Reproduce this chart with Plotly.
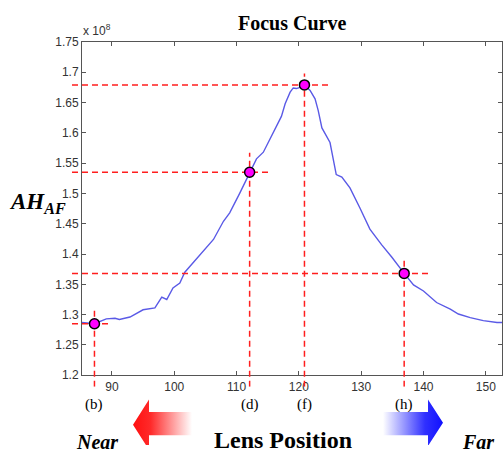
import plotly.graph_objects as go

W, H = 504, 452

# ---------------- data ----------------
lens_pos = [85.2, 87.2, 89.1, 90.5, 91.2, 92.9, 95.0, 96.9, 98.0, 98.8, 99.8, 100.9,
            101.7, 103.6, 106.3, 107.9, 108.9, 110.5, 112.1, 113.2, 114.3, 115.1,
            115.9, 117.2, 117.8, 118.6, 119.1, 119.6, 120.2, 120.9, 121.8, 122.6,
            123.1, 123.7, 125.0, 125.5, 126.0, 126.9, 128.2, 129.8, 131.4, 133.3,
            134.9, 136.9, 138.4, 140.0, 142.1, 144.3, 145.6, 147.5, 149.6, 151.8, 152.8]
ah_af = [1.287, 1.285, 1.293, 1.294, 1.292, 1.296, 1.308, 1.311, 1.329, 1.325, 1.344, 1.352,
         1.370, 1.392, 1.424, 1.454, 1.468, 1.500, 1.535, 1.557, 1.568, 1.584,
         1.600, 1.627, 1.648, 1.667, 1.674, 1.673, 1.675, 1.679, 1.670, 1.656,
         1.637, 1.608, 1.584, 1.557, 1.531, 1.527, 1.509, 1.476, 1.441, 1.415,
         1.395, 1.368, 1.349, 1.339, 1.320, 1.309, 1.301, 1.295, 1.290, 1.287, 1.287]

key_pos = [87.2, 112.1, 120.9, 136.9]
key_ah = [1.285, 1.535, 1.679, 1.368]
key_labels = ["(b)", "(d)", "(f)", "(h)"]

x_ticks = [90, 100, 110, 120, 130, 140, 150]
y_ticks = [1.2, 1.25, 1.3, 1.35, 1.4, 1.45, 1.5, 1.55, 1.6, 1.65, 1.7, 1.75]
y_tick_labels = ["1.2", "1.25", "1.3", "1.35", "1.4", "1.45", "1.5", "1.55",
                 "1.6", "1.65", "1.7", "1.75"]

x_range = [85.2, 152.6]
y_range = [1.2, 1.75]

# ---------------- layout geometry (pixels) ----------------
L, R, T, B = 82, 502, 36, 380
EXT_L, EXT_B = 72, 392           # guide lines poke out of the box
ux = (x_range[1] - x_range[0]) / (R - L)
uy = (y_range[1] - y_range[0]) / (B - T)
x2_range = [x_range[0] - (L - EXT_L) * ux, x_range[1]]
y2_range = [y_range[0] - (EXT_B - B) * uy, y_range[1]]

# how far guide lines run past each key point (data units)
h_over = [2.5, 3.5, 3.9, 3.9]
v_over = [0.022, 0.032, 0.019, 0.021]

SERIF = "Liberation Serif"
SANS = "Liberation Sans"

fig = go.Figure()

# focus curve
fig.add_trace(go.Scatter(x=lens_pos, y=ah_af, mode="lines",
                         line=dict(color="#5a5ae6", width=1.4),
                         xaxis="x", yaxis="y", hoverinfo="skip"))

# guide lines
gx, gy = [], []
for kx, ky, ho, vo in zip(key_pos, key_ah, h_over, v_over):
    gx += [x2_range[0], kx + ho, None, kx, kx, None]
    gy += [ky, ky, None, y2_range[0], ky + vo, None]
fig.add_trace(go.Scatter(x=gx, y=gy, mode="lines",
                         line=dict(color="#ff1e1e", width=1.5, dash="6px,4px"),
                         xaxis="x2", yaxis="y2", hoverinfo="skip"))

# key points
fig.add_trace(go.Scatter(x=key_pos, y=key_ah, mode="markers",
                         marker=dict(size=10, color="#ff00ff",
                                     line=dict(color="black", width=1.5)),
                         xaxis="x2", yaxis="y2", cliponaxis=False, hoverinfo="skip"))

# gradient arrows (decoration, pixel space)
red_arrow_x = [133, 149, 149, 192, 192, 149, 149, 133]
red_arrow_y = [431, 405, 418, 418, 442, 442, 457, 431]
blue_arrow_x = [383, 428, 428, 443, 428, 428, 383, 383]
blue_arrow_y = [418, 418, 405, 429, 453, 442, 442, 418]
fig.add_trace(go.Scatter(x=red_arrow_x, y=red_arrow_y, mode="lines", fill="toself",
                         line=dict(width=0, color="rgba(0,0,0,0)"),
                         fillgradient=dict(type="horizontal",
                                           colorscale=[[0, "#ff1010"], [0.3, "#ff2a2a"],
                                                       [1, "#ffffff"]]),
                         xaxis="x3", yaxis="y3", hoverinfo="skip"))
fig.add_trace(go.Scatter(x=blue_arrow_x, y=blue_arrow_y, mode="lines", fill="toself",
                         line=dict(width=0, color="rgba(0,0,0,0)"),
                         fillgradient=dict(type="horizontal",
                                           colorscale=[[0, "#ffffff"], [0.7, "#3030ff"],
                                                       [1, "#1010ff"]]),
                         xaxis="x3", yaxis="y3", hoverinfo="skip"))

axis_common = dict(showgrid=False, zeroline=False, showline=True, linecolor="#555",
                   linewidth=1, mirror="ticks", ticks="inside", ticklen=4,
                   tickcolor="#555", tickfont=dict(family=SANS, size=12, color="#333"))

fig.update_layout(
    width=W, height=H,
    margin=dict(l=0, r=0, t=0, b=0),
    paper_bgcolor="white", plot_bgcolor="rgba(0,0,0,0)",
    showlegend=False,
    xaxis=dict(domain=[L / W, R / W], range=x_range, tickvals=x_ticks,
               anchor="y", **axis_common),
    yaxis=dict(domain=[1 - B / H, 1 - T / H], range=y_range, tickvals=y_ticks,
               ticktext=y_tick_labels, anchor="x", **axis_common),
    xaxis2=dict(domain=[EXT_L / W, R / W], range=x2_range, visible=False, anchor="y2"),
    yaxis2=dict(domain=[1 - EXT_B / H, 1 - T / H], range=y2_range, visible=False, anchor="x2"),
    xaxis3=dict(domain=[0, 1], range=[0, W], visible=False, anchor="y3"),
    yaxis3=dict(domain=[0, (H - 395) / H], range=[H, 395], visible=False, anchor="x3"),
)

ann = []
ann.append(dict(text="<b>Focus Curve</b>", x=292 / W, y=1 - 17 / H, xref="paper", yref="paper",
                showarrow=False, xanchor="center", yanchor="middle",
                font=dict(family=SERIF, size=20, color="black")))
ann.append(dict(text="x 10<sup>8</sup>", x=81 / W, y=1 - 24 / H, xref="paper", yref="paper",
                showarrow=False, xanchor="left", yanchor="middle",
                font=dict(family=SANS, size=12, color="#333")))
ann.append(dict(text="<b><i>AH<sub>AF</sub></i></b>", x=37 / W, y=1 - 202 / H,
                xref="paper", yref="paper", showarrow=False, xanchor="center",
                yanchor="middle", font=dict(family=SERIF, size=23, color="black")))
for kx, lab in zip(key_pos, key_labels):
    ann.append(dict(text=lab, x=kx, y=1 - 410 / H, xref="x", yref="paper",
                    showarrow=False, xanchor="center", yanchor="middle",
                    font=dict(family=SERIF, size=15, color="black")))
ann.append(dict(text="<b><i>Near</i></b>", x=97 / W, y=1 - 449 / H, xref="paper", yref="paper",
                showarrow=False, xanchor="center", yanchor="middle",
                font=dict(family=SERIF, size=20, color="black")))
ann.append(dict(text="<b>Lens Position</b>", x=283 / W, y=1 - 447 / H, xref="paper",
                yref="paper", showarrow=False, xanchor="center", yanchor="middle",
                font=dict(family=SERIF, size=24, color="black")))
ann.append(dict(text="<b><i>Far</i></b>", x=478 / W, y=1 - 449 / H, xref="paper", yref="paper",
                showarrow=False, xanchor="center", yanchor="middle",
                font=dict(family=SERIF, size=20, color="black")))
fig.update_layout(annotations=ann)

fig.write_html("out.html", config={"displayModeBar": False},
               post_script="document.body.style.margin='0';document.body.style.overflow='hidden';")
